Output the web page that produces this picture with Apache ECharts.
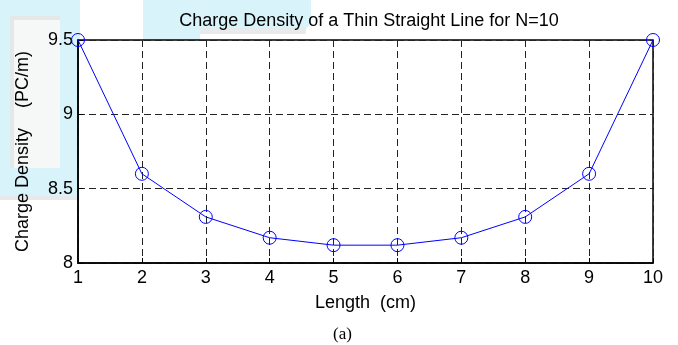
<!DOCTYPE html>
<html>
<head>
<meta charset="utf-8">
<script src="https://cdn.jsdelivr.net/npm/echarts@6/dist/echarts.min.js"></script>
<style>
  html, body { margin: 0; padding: 0; background: #fff; }
  #chart { width: 678px; height: 345px; }
</style>
</head>
<body>
<div id="chart"></div>
<script>
// data
const posiciones = [1, 2, 3, 4, 5, 6, 7, 8, 9, 10];
const densidad = [9.5, 8.6, 8.31, 8.17, 8.12, 8.12, 8.17, 8.31, 8.6, 9.5];
const yTicks = [8, 8.5, 9, 9.5];

const chart = echarts.init(document.getElementById("chart"));
const fuente = "Liberation Sans, Arial, sans-serif";
const cian = "#d9f3fa";

const option = {
  backgroundColor: "#fff",
  animation: false,
  graphic: [
    // faint watermark behind the figure
    { type: "rect", z: -10, shape: { x: 0, y: 196, width: 80, height: 4 }, style: { fill: "#e6eaeb" } },
    { type: "rect", z: -10, shape: { x: 0, y: 0, width: 80, height: 196 }, style: { fill: cian } },
    { type: "rect", z: -9, shape: { x: 10, y: 16, width: 50, height: 152 }, style: { fill: "#e4e8e9" } },
    { type: "rect", z: -8, shape: { x: 14, y: 20, width: 46, height: 148 }, style: { fill: "#f6f8f8" } },
    { type: "rect", z: -10, shape: { x: 143, y: 0, width: 168, height: 30, r: [0, 0, 10, 0] }, style: { fill: cian } },
    { type: "rect", z: -10, shape: { x: 143, y: 28, width: 57, height: 12 }, style: { fill: cian } },
    { type: "rect", z: -9, shape: { x: 200, y: 28, width: 106, height: 6 }, style: { fill: "#e8ebec" } },
    {
      type: "text", left: 333, top: 326,
      style: { text: "(a)", font: "17px Liberation Serif, Times New Roman, serif", fill: "#000" }
    }
  ],
  title: {
    text: "Charge Density of a Thin Straight Line for N=10",
    left: 364, top: 7, textAlign: "center",
    textStyle: { fontFamily: fuente, fontSize: 18, fontWeight: "normal", color: "#000" }
  },
  grid: {
    left: 78, right: 25, top: 40, bottom: 82,
    show: true, backgroundColor: "#fff", borderColor: "#000", borderWidth: 1.5
  },
  xAxis: {
    type: "value", min: 1, max: 10, interval: 1,
    name: "Length  (cm)", nameLocation: "middle", nameGap: 31,
    nameTextStyle: { fontFamily: fuente, fontSize: 18, color: "#000" },
    axisLine: { lineStyle: { color: "#000", width: 1.5 } },
    axisTick: { inside: true, length: 5, lineStyle: { color: "#000" } },
    axisLabel: { fontFamily: fuente, fontSize: 18, color: "#000", margin: 6 },
    splitLine: { show: true, lineStyle: { color: "#222", type: [7, 4], width: 1 } }
  },
  yAxis: {
    type: "value", min: 8, max: 9.5, interval: 0.5,
    name: "Charge Density    (PC/m)", nameLocation: "middle", nameGap: 46,
    nameTextStyle: { fontFamily: fuente, fontSize: 18, color: "#000" },
    axisLine: { show: true, lineStyle: { color: "#000", width: 1.5 } },
    axisTick: { show: true, inside: true, length: 5, lineStyle: { color: "#000" } },
    axisLabel: {
      fontFamily: fuente, fontSize: 18, color: "#000", margin: 5,
      formatter: v => (yTicks.includes(v) ? String(v) : "")
    },
    splitLine: { show: true, lineStyle: { color: "#222", type: [7, 4], width: 1 } }
  },
  series: [{
    type: "line",
    data: posiciones.map((x, i) => [x, densidad[i]]),
    symbol: "circle", symbolSize: 13,
    itemStyle: { color: "rgba(0,0,0,0)", borderColor: "#0000ff", borderWidth: 1 },
    lineStyle: { color: "#0000ff", width: 1 },
    clip: false
  }]
};

chart.setOption(option);
</script>
</body>
</html>
